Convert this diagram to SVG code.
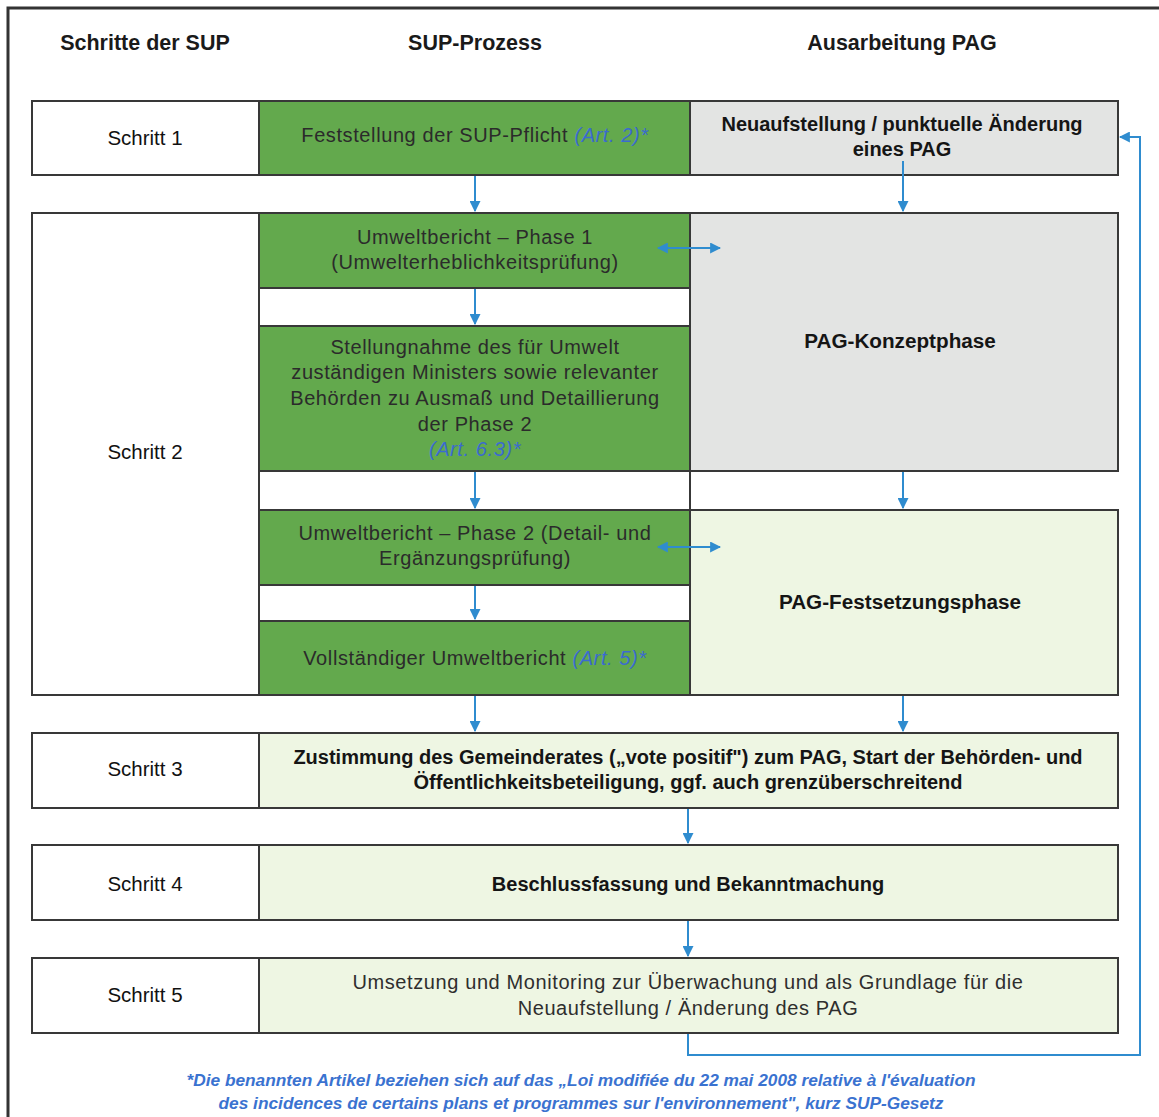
<svg xmlns="http://www.w3.org/2000/svg" width="1159" height="1117" viewBox="0 0 1159 1117">
<defs>
<marker id="ah" viewBox="0 0 10 10" refX="9" refY="5" markerWidth="5.5" markerHeight="5.5" orient="auto-start-reverse" markerUnits="strokeWidth">
<path d="M0,0 L10,5 L0,10 z" fill="#2f8ccf"/>
</marker>
</defs>
<style>
.box{stroke:#383838;stroke-width:2}
.white{fill:#ffffff}
.green{fill:#63a94d}
.gray{fill:#e3e4e3}
.lgreen{fill:#eef6e3}
.t{font-family:"Liberation Sans",Arial,sans-serif;text-anchor:middle}
.hd{font-size:21.5px;font-weight:bold;fill:#1a1a1a}
.step{font-size:20.5px;fill:#111}
.g{font-size:20px;letter-spacing:0.6px;fill:#2b2b2b}
.b{font-size:20px;font-weight:bold;fill:#151515}
.bb{font-size:20.7px;font-weight:bold;fill:#151515}
.r{font-size:20px;letter-spacing:0.6px;fill:#2e2e2e}
.art{fill:#3b6bd0;font-style:italic}
.fn{font-size:17.3px;font-weight:bold;font-style:italic;fill:#3a72d0}
.con{stroke:#2f8ccf;stroke-width:2;fill:none}
</style>
<rect x="0" y="0" width="1159" height="1117" fill="#ffffff"/>
<path d="M8,1117 L8,8 L1159,8" fill="none" stroke="#333" stroke-width="3"/>

<g id="headers">
<text class="t hd" x="145" y="50">Schritte der SUP</text>
<text class="t hd" x="475" y="50">SUP-Prozess</text>
<text class="t hd" x="902" y="50">Ausarbeitung PAG</text>
</g>

<g id="schritt1">
<rect class="box white" x="32" y="101" width="227" height="74"/>
<text class="t step" x="145" y="145">Schritt 1</text>
</g>
<g id="sup-pflicht">
<rect class="box green" x="259" y="101" width="431" height="74"/>
<text class="t g" x="475" y="142">Feststellung der SUP-Pflicht  <tspan class="art">(Art. 2)*</tspan></text>
</g>
<g id="neuaufstellung">
<rect class="box gray" x="690" y="101" width="428" height="74"/>
<text class="t b" x="902" y="131">Neuaufstellung / punktuelle Änderung</text>
<text class="t b" x="902" y="156">eines PAG</text>
</g>

<g id="schritt2">
<rect class="box white" x="32" y="213" width="227" height="482"/>
<text class="t step" x="145" y="459">Schritt 2</text>
</g>
<g id="gap1"><rect class="box white" x="259" y="288" width="431" height="38"/></g>
<g id="gap2"><rect class="box white" x="259" y="471" width="431" height="39"/></g>
<g id="gap3"><rect class="box white" x="259" y="585" width="431" height="36"/></g>
<g id="phase1">
<rect class="box green" x="259" y="213" width="431" height="75"/>
<text class="t g" x="475" y="244">Umweltbericht – Phase 1</text>
<text class="t g" x="475" y="269">(Umwelterheblichkeitsprüfung)</text>
</g>
<g id="stellungnahme">
<rect class="box green" x="259" y="326" width="431" height="145"/>
<text class="t g" x="475" y="354">Stellungnahme  des für Umwelt</text>
<text class="t g" x="475" y="379">zuständigen Ministers sowie relevanter</text>
<text class="t g" x="475" y="405">Behörden zu Ausmaß und Detaillierung</text>
<text class="t g" x="475" y="431">der Phase  2</text>
<text class="t g art" x="475" y="456">(Art. 6.3)*</text>
</g>
<g id="phase2">
<rect class="box green" x="259" y="510" width="431" height="75"/>
<text class="t g" x="475" y="540">Umweltbericht – Phase 2 (Detail- und</text>
<text class="t g" x="475" y="565">Ergänzungsprüfung)</text>
</g>
<g id="vollstaendig">
<rect class="box green" x="259" y="621" width="431" height="74"/>
<text class="t g" x="475" y="665">Vollständiger Umweltbericht <tspan class="art">(Art. 5)*</tspan></text>
</g>
<g id="konzeptphase">
<rect class="box gray" x="690" y="213" width="428" height="258"/>
<text class="t bb" x="900" y="348">PAG-Konzeptphase</text>
</g>
<g id="festsetzungsphase">
<rect class="box lgreen" x="690" y="510" width="428" height="185"/>
<text class="t bb" x="900" y="609">PAG-Festsetzungsphase</text>
</g>

<g id="schritt3">
<rect class="box white" x="32" y="733" width="227" height="75"/>
<text class="t step" x="145" y="776">Schritt 3</text>
</g>
<g id="zustimmung">
<rect class="box lgreen" x="259" y="733" width="859" height="75"/>
<text class="t b" x="688" y="764">Zustimmung des Gemeinderates („vote positif") zum PAG, Start der Behörden- und</text>
<text class="t b" x="688" y="789">Öffentlichkeitsbeteiligung, ggf. auch grenzüberschreitend</text>
</g>

<g id="schritt4">
<rect class="box white" x="32" y="845" width="227" height="75"/>
<text class="t step" x="145" y="891">Schritt 4</text>
</g>
<g id="beschluss">
<rect class="box lgreen" x="259" y="845" width="859" height="75"/>
<text class="t b" x="688" y="891">Beschlussfassung und Bekanntmachung</text>
</g>

<g id="schritt5">
<rect class="box white" x="32" y="958" width="227" height="75"/>
<text class="t step" x="145" y="1002" fill="#333">Schritt 5</text>
</g>
<g id="umsetzung">
<rect class="box lgreen" x="259" y="958" width="859" height="75"/>
<text class="t r" x="688" y="989">Umsetzung und Monitoring  zur Überwachung und als Grundlage  für die</text>
<text class="t r" x="688" y="1015">Neuaufstellung / Änderung des PAG</text>
</g>

<g id="connectors">
<line class="con" x1="475" y1="176" x2="475" y2="211" marker-end="url(#ah)"/>
<line class="con" x1="903" y1="161" x2="903" y2="211" marker-end="url(#ah)"/>
<line class="con" x1="475" y1="289" x2="475" y2="324" marker-end="url(#ah)"/>
<line class="con" x1="475" y1="472" x2="475" y2="508" marker-end="url(#ah)"/>
<line class="con" x1="903" y1="472" x2="903" y2="508" marker-end="url(#ah)"/>
<line class="con" x1="475" y1="586" x2="475" y2="619" marker-end="url(#ah)"/>
<line class="con" x1="475" y1="696" x2="475" y2="731" marker-end="url(#ah)"/>
<line class="con" x1="903" y1="696" x2="903" y2="731" marker-end="url(#ah)"/>
<line class="con" x1="688" y1="809" x2="688" y2="843" marker-end="url(#ah)"/>
<line class="con" x1="688" y1="921" x2="688" y2="956" marker-end="url(#ah)"/>
<line class="con" x1="658" y1="248" x2="720" y2="248" marker-start="url(#ah)" marker-end="url(#ah)"/>
<line class="con" x1="658" y1="547" x2="720" y2="547" marker-start="url(#ah)" marker-end="url(#ah)"/>
<polyline class="con" points="688,1034 688,1055 1140,1055 1140,137 1120,137" marker-end="url(#ah)"/>
</g>

<g id="footnote">
<text class="t fn" x="581" y="1086">*Die benannten Artikel beziehen sich auf das „Loi modifiée  du 22 mai 2008 relative à l'évaluation</text>
<text class="t fn" x="581" y="1109">des incidences de certains plans et programmes  sur l'environnement", kurz SUP-Gesetz</text>
</g>
</svg>
